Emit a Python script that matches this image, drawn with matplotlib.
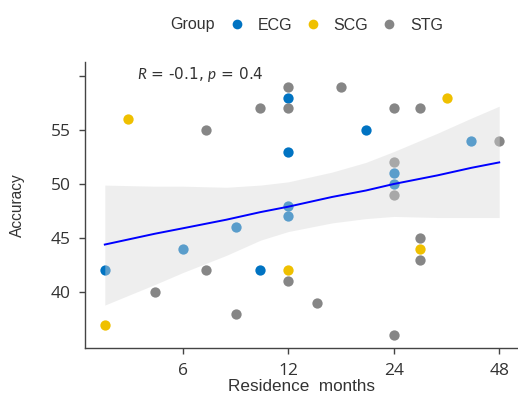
import matplotlib
matplotlib.use("Agg")
import matplotlib.pyplot as plt
from matplotlib.lines import Line2D

# values (x = residence months, y = accuracy)
ecg_x = [3.6, 6, 8.5, 10, 12, 12, 12, 12, 20, 24, 24, 40]
ecg_y = [42, 44, 46, 42, 58, 53, 48, 47, 55, 51, 50, 54]
scg_x = [3.6, 4.2, 12, 28.5, 34]
scg_y = [37, 56, 42, 44, 58]
stg_x = [5, 7, 7, 8.5, 10, 12, 12, 12, 14.5, 17, 24, 24, 24, 24, 28.5, 28.5, 28.5, 48]
stg_y = [40, 42, 55, 38, 57, 59, 57, 41, 39, 59, 57, 52, 49, 36, 57, 45, 43, 54]

# fitted line and its confidence band
fit_x = [3.6, 5, 6, 8, 10, 12, 16, 20, 24, 32, 40, 48]
fit_y = [44.4, 45.4, 45.9, 46.7, 47.4, 47.9, 48.8, 49.4, 50.0, 50.8, 51.5, 52.0]
band_lo = [38.8, 40.7, 41.8, 43.4, 44.8, 45.6, 46.4, 46.8, 47.0, 46.9, 46.9, 46.9]
band_hi = [49.9, 49.8, 49.8, 49.7, 49.9, 50.2, 51.1, 52.0, 53.0, 54.7, 56.1, 57.2]

x_ticks = [6, 12, 24, 48]
y_ticks = [40, 45, 50, 55, 60]
y_labels = ["40", "45", "50", "55", ""]

colors = {"ECG": "#0073C2", "SCG": "#EFC000", "STG": "#868686"}

plt.rcParams["mathtext.fontset"] = "custom"
plt.rcParams["mathtext.rm"] = "Lato"
plt.rcParams["mathtext.it"] = "Lato:italic"

fig = plt.figure(figsize=(5.18, 3.94), dpi=100)
ax = fig.add_axes([0.164, 0.117, 0.836, 0.726])

ax.scatter(ecg_x, ecg_y, s=55, color=colors["ECG"], linewidths=0, zorder=2)
ax.scatter(scg_x, scg_y, s=55, color=colors["SCG"], linewidths=0, zorder=2)
ax.scatter(stg_x, stg_y, s=55, color=colors["STG"], linewidths=0, zorder=2)

# band is drawn over the points, like in the original
ax.fill_between(fit_x, band_lo, band_hi, color="#D8D8D8", alpha=0.42, linewidth=0, zorder=3)
ax.plot(fit_x, fit_y, color="#0000FF", lw=1.4, zorder=4)

ax.text(4.45, 60.1, r"$\it{R}$ = -0.1, $\it{p}$ = 0.4", fontsize=11, color="#333333",
        va="center", ha="left")

ax.set_xscale("log", base=2)
ax.set_xlim(3.16, 54.3)
ax.set_ylim(34.84, 61.3)
ax.set_xticks(x_ticks)
ax.set_xticklabels([str(t) for t in x_ticks])
ax.minorticks_off()
ax.set_yticks(y_ticks)
ax.set_yticklabels(y_labels)

for side in ["top", "right"]:
    ax.spines[side].set_visible(False)
for side in ["left", "bottom"]:
    ax.spines[side].set_color("#444444")
    ax.spines[side].set_linewidth(1)
ax.tick_params(colors="#444444", length=4, width=1, labelsize=12.5)
ax.tick_params(axis="x", pad=7)
ax.tick_params(axis="y", pad=6)
for lab in ax.get_xticklabels() + ax.get_yticklabels():
    lab.set_fontfamily("Open Sans")
    lab.set_color("#333333")

ax.set_xlabel("Residence  months", fontsize=12.3, family="Liberation Sans", color="#333333", labelpad=0)
ax.set_ylabel("Accuracy", fontsize=11.2, family="Liberation Sans", color="#333333", labelpad=19)

fig.text(170 / 518, 1 - 25 / 394, "Group", fontsize=11.5, family="Liberation Sans",
         color="#333333", va="center", ha="left")
handles = [Line2D([], [], marker="o", ls="", markersize=7, markeredgewidth=0,
                  color=colors[g]) for g in ["ECG", "SCG", "STG"]]
fig.legend(handles, ["ECG", "SCG", "STG"], loc="center left", ncol=3,
           bbox_to_anchor=(227 / 518, 1 - 25 / 394), frameon=False,
           prop={"family": "Liberation Sans", "size": 11.5}, labelcolor="#333333",
           handlelength=1.2, handletextpad=0.7, columnspacing=0.7, borderpad=0, borderaxespad=0)

fig.savefig("out.png", dpi=100)
